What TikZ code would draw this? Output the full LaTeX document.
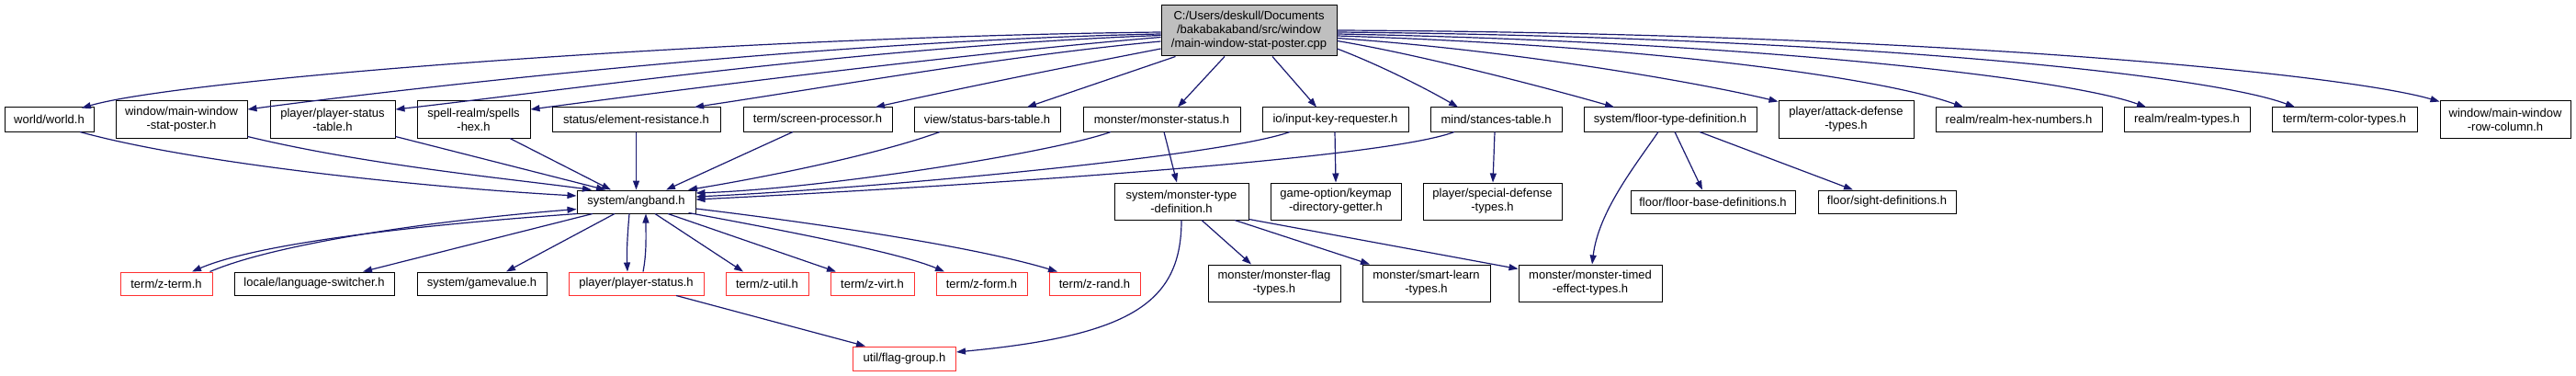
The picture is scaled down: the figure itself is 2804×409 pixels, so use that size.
\documentclass[tikz,border=0pt]{standalone}
\usepackage{fontspec}
\newfontfamily\dxfont{Liberation Sans}
\usetikzlibrary{arrows.meta,calc}
\definecolor{edgecol}{HTML}{191970}
\definecolor{topfill}{HTML}{BFBFBF}
\definecolor{redline}{HTML}{FF3030}
\begin{document}
\begin{tikzpicture}[x=1pt,y=-1pt,
  box/.style={draw=black, line width=1pt, fill=white, inner sep=0pt, align=center,
    font={\dxfont\fontsize{13}{15}\selectfont}},
  redbox/.style={box, draw=redline},
  dep/.style={draw=edgecol, line width=1.2pt, -{Triangle[length=10pt,width=7pt]}}]
\useasboundingbox[fill=white] (0,0) rectangle (2804,409);

% top node
\node[box, fill=topfill, minimum width=191pt, minimum height=55pt] (top) at (1359.5,33.5)
  {C:/Users/deskull/Documents\\/bakabakaband/src/window\\/main-window-stat-poster.cpp};

% row 1
\node[box, minimum width=97pt, minimum height=26pt] (world) at (53.5,130) {world/world.h};
\node[box, minimum width=143pt, minimum height=40pt] (statposter) at (197.5,130) {window/main-window\\-stat-poster.h};
\node[box, minimum width=136pt, minimum height=40pt] (pstable) at (362,130) {player/player-status\\-table.h};
\node[box, minimum width=123pt, minimum height=40pt] (spellshex) at (515.5,130) {spell-realm/spells\\-hex.h};
\node[box, minimum width=183pt, minimum height=26pt] (elemres) at (692.5,130) {status/element-resistance.h};
\node[box, minimum width=162pt, minimum height=26pt] (screenproc) at (890,130) {term/screen-processor.h};
\node[box, minimum width=159pt, minimum height=26pt] (statusbars) at (1074.5,130) {view/status-bars-table.h};
\node[box, minimum width=171pt, minimum height=26pt] (monstatus) at (1264.5,130) {monster/monster-status.h};
\node[box, minimum width=159pt, minimum height=26pt] (inputkey) at (1453.5,130) {io/input-key-requester.h};
\node[box, minimum width=143pt, minimum height=26pt] (stances) at (1628.5,130) {mind/stances-table.h};
\node[box, minimum width=188pt, minimum height=26pt] (floortype) at (1818,130) {system/floor-type-definition.h};
\node[box, minimum width=147pt, minimum height=40pt] (attackdef) at (2009.5,130) {player/attack-defense\\-types.h};
\node[box, minimum width=181pt, minimum height=26pt] (realmhex) at (2197.5,130) {realm/realm-hex-numbers.h};
\node[box, minimum width=137pt, minimum height=26pt] (realmtypes) at (2380.5,130) {realm/realm-types.h};
\node[box, minimum width=158pt, minimum height=26pt] (termcolor) at (2552,130) {term/term-color-types.h};
\node[box, minimum width=142pt, minimum height=40pt] (rowcol) at (2727,130) {window/main-window\\-row-column.h};

% row 2
\node[box, minimum width=129pt, minimum height=25pt] (angband) at (692.5,219.5) {system/angband.h};
\node[box, minimum width=146pt, minimum height=40pt] (montypedef) at (1286,219) {system/monster-type\\-definition.h};
\node[box, minimum width=142pt, minimum height=40pt] (keymap) at (1454,219) {game-option/keymap\\-directory-getter.h};
\node[box, minimum width=151pt, minimum height=40pt] (specdef) at (1624.5,219) {player/special-defense\\-types.h};
\node[box, minimum width=179pt, minimum height=25pt] (floorbase) at (1864.5,219.5) {floor/floor-base-definitions.h};
\node[box, minimum width=150pt, minimum height=25pt] (sight) at (2054,219.5) {floor/sight-definitions.h};

% row 3
\node[redbox, minimum width=100pt, minimum height=25pt] (zterm) at (181,308.5) {term/z-term.h};
\node[box, minimum width=174pt, minimum height=25pt] (langsw) at (342,308.5) {locale/language-switcher.h};
\node[box, minimum width=141pt, minimum height=25pt] (gamevalue) at (524.5,308.5) {system/gamevalue.h};
\node[redbox, minimum width=147pt, minimum height=25pt] (pstatus) at (692.5,308.5) {player/player-status.h};
\node[redbox, minimum width=90pt, minimum height=25pt] (zutil) at (835,308.5) {term/z-util.h};
\node[redbox, minimum width=91pt, minimum height=25pt] (zvirt) at (949.5,308.5) {term/z-virt.h};
\node[redbox, minimum width=99pt, minimum height=25pt] (zform) at (1068.5,308.5) {term/z-form.h};
\node[redbox, minimum width=99pt, minimum height=25pt] (zrand) at (1191.5,308.5) {term/z-rand.h};
\node[box, minimum width=144pt, minimum height=40pt] (monflag) at (1387,308) {monster/monster-flag\\-types.h};
\node[box, minimum width=139pt, minimum height=40pt] (smartlearn) at (1552.5,308) {monster/smart-learn\\-types.h};
\node[box, minimum width=156pt, minimum height=40pt] (montimed) at (1731,308) {monster/monster-timed\\-effect-types.h};

% row 4
\node[redbox, minimum width=112pt, minimum height=26pt] (flaggroup) at (984.5,390) {util/flag-group.h};

% edges from top node
\draw[dep] ($(top.west)+(0,1.5)$) .. controls (800,40) and (200,85) .. ($(world.north)+(35.5,1)$);
\draw[dep] ($(top.west)+(0,3.5)$) .. controls (900,44) and (450,95) .. ($(statposter.east)+(0,-11)$);
\draw[dep] ($(top.west)+(0,5)$) .. controls (950,50) and (600,100) .. ($(pstable.east)+(0,-11)$);
\draw[dep] ($(top.west)+(0,7)$) .. controls (1050,58) and (720,100) .. ($(spellshex.east)+(0,-11)$);
\draw[dep] ($(top.west)+(0,11.5)$) .. controls (1100,60) and (900,95) .. ($(elemres.north)+(63.5,0)$);
\draw[dep] ($(top.west)+(0,19.5)$) .. controls (1150,75) and (1050,95) .. ($(screenproc.north)+(63,0)$);
\draw[dep] ($(top.south west)+(16,0)$) -- ($(statusbars.north)+(43.5,0)$);
\draw[dep] ($(top.south)+(-26.5,0)$) -- ($(monstatus.north)+(17.5,0)$);
\draw[dep] ($(top.south)+(25.5,0)$) -- ($(inputkey.north)+(-20.5,0)$);
\draw[dep] ($(top.east)+(0,19.5)$) .. controls (1500,70) and (1550,95) .. ($(stances.north)+(-41.5,0)$);
\draw[dep] ($(top.east)+(0,11)$) .. controls (1550,60) and (1700,100) .. ($(floortype.north)+(-61,0)$);
\draw[dep] ($(top.east)+(0,8)$) .. controls (1650,55) and (1850,90) .. ($(attackdef.north west)+(0,1)$);
\draw[dep] ($(top.east)+(0,5.5)$) .. controls (1800,50) and (2050,85) .. ($(realmhex.north)+(-60.5,0)$);
\draw[dep] ($(top.east)+(0,3.5)$) .. controls (1900,45) and (2250,85) .. ($(realmtypes.north)+(-44.5,0)$);
\draw[dep] ($(top.east)+(0,1.5)$) .. controls (2000,40) and (2400,80) .. ($(termcolor.north)+(-54,0)$);
\draw[dep] ($(top.east)+(0,-0.5)$) .. controls (2100,36) and (2550,80) .. ($(rowcol.north west)+(0,1)$);

% edges into angband
\draw[dep] ($(world.south)+(33.5,0)$) .. controls (220,180) and (480,205) .. ($(angband.west)+(0,-6.5)$);
\draw[dep] ($(statposter.south east)+(0,-2)$) .. controls (400,180) and (560,195) .. ($(angband.north)+(-48.5,0)$);
\draw[dep] ($(pstable.south east)+(0,-2)$) -- ($(angband.north)+(-33.5,0)$);
\draw[dep] ($(spellshex.south)+(39.5,0)$) -- ($(angband.north)+(-27.5,0)$);
\draw[dep] (elemres.south) -- (angband.north);
\draw[dep] ($(screenproc.south)+(-27,0)$) -- ($(angband.north)+(32.5,0)$);
\draw[dep] ($(statusbars.south)+(-51.5,0)$) .. controls (950,170) and (820,195) .. ($(angband.north)+(56.5,0)$);
\draw[dep] ($(monstatus.south)+(-55.5,0)$) .. controls (1150,165) and (900,205) .. ($(angband.east)+(0,-9.5)$);
\draw[dep] ($(inputkey.south)+(-49.5,0)$) .. controls (1330,170) and (950,205) .. ($(angband.east)+(0,-5.5)$);
\draw[dep] ($(stances.south)+(-45.5,0)$) .. controls (1500,175) and (1000,205) .. ($(angband.east)+(0,-2.5)$);

% edges out of angband
\draw[dep] ($(angband.south west)+(1,0)$) .. controls (450,245) and (280,265) .. ($(zterm.north)+(28,0)$);
\draw[dep] ($(zterm.north east)+(-3,0)$) .. controls (300,265) and (470,240) .. ($(angband.west)+(0,8)$);
\draw[dep] ($(angband.south)+(-47.5,0)$) -- ($(langsw.north)+(53,0)$);
\draw[dep] ($(angband.south)+(-23.5,0)$) -- ($(gamevalue.north)+(26.5,0)$);
\draw[dep] ($(angband.south)+(-7.5,0)$) .. controls (683,255) and (682,275) .. ($(pstatus.north)+(-9.5,0)$);
\draw[dep] ($(pstatus.north)+(7.5,0)$) .. controls (704,275) and (703,255) .. ($(angband.south)+(10.5,0)$);
\draw[dep] ($(angband.south)+(20.5,0)$) -- ($(zutil.north)+(-26,0)$);
\draw[dep] ($(angband.south)+(34.5,0)$) -- ($(zvirt.north)+(-39.5,0)$);
\draw[dep] ($(angband.south east)+(-8,-1)$) .. controls (850,250) and (980,275) .. ($(zform.north)+(-40.5,0)$);
\draw[dep] ($(angband.east)+(0,7.5)$) .. controls (850,238) and (1050,265) .. ($(zrand.north)+(-40.5,0)$);

% lower edges
\draw[dep] ($(pstatus.south)+(43.5,0)$) -- ($(flaggroup.north west)+(14,0)$);
\draw[dep] ($(montypedef.south)+(0,0)$) .. controls (1286,330) and (1230,365) .. ($(flaggroup.east)+(0,-7)$);
\draw[dep] ($(monstatus.south)+(2.5,0)$) -- ($(montypedef.north)+(-5,0)$);
\draw[dep] ($(inputkey.south)+(-0.5,0)$) -- (keymap.north);
\draw[dep] ($(stances.south)+(-1.5,0)$) -- ($(specdef.north)+(0.5,0)$);
\draw[dep] ($(floortype.south)+(5,0)$) -- ($(floorbase.north)+(-11.5,0)$);
\draw[dep] ($(floortype.south)+(32,0)$) -- ($(sight.north)+(-37,0)$);
\draw[dep] ($(floortype.south)+(-13,0)$) .. controls (1780,180) and (1740,230) .. ($(montimed.north)+(2,0)$);
\draw[dep] ($(montypedef.south)+(22,0)$) -- ($(monflag.north)+(-25,0)$);
\draw[dep] ($(montypedef.south)+(58,0)$) -- ($(smartlearn.north)+(-61.5,0)$);
\draw[dep] ($(montypedef.south east)+(0,-1)$) -- ($(montimed.north west)+(0,5)$);
\end{tikzpicture}
\end{document}
